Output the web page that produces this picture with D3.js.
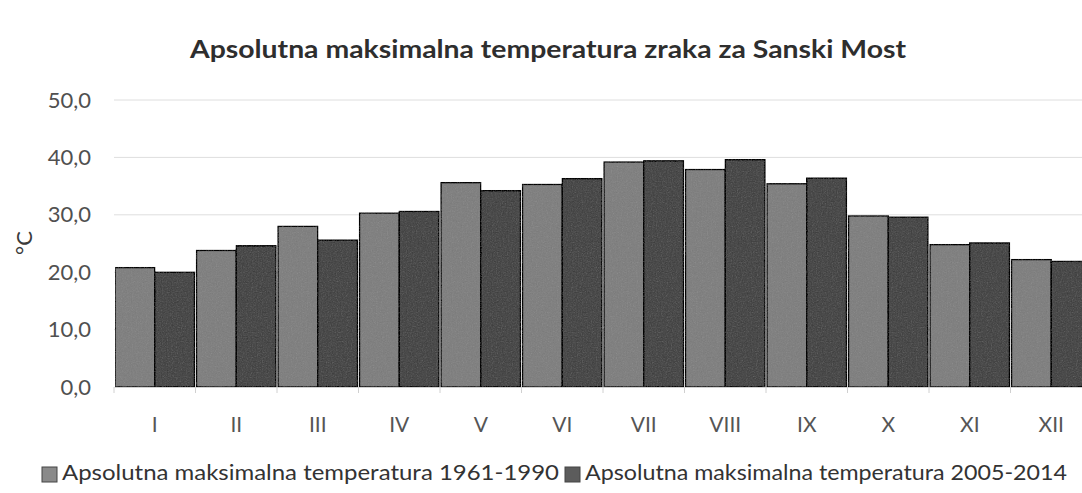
<!DOCTYPE html>
<html>
<head>
<meta charset="utf-8">
<script src="https://cdn.jsdelivr.net/npm/d3@7"></script>
<style>
  body { margin: 0; background: #fff; }
  svg { display: block; font-family: Lato, 'Open Sans', sans-serif; }
</style>
</head>
<body>
<div id="chart"></div>
<script>
'use strict';

var w = 1082;
var h = 493;

// months (roman numerals)
var months = [ 'I', 'II', 'III', 'IV', 'V', 'VI', 'VII', 'VIII', 'IX', 'X', 'XI', 'XII' ];

// absolute max temperature, degC
var temp6190 = [ 20.8, 23.8, 28.0, 30.3, 35.6, 35.3, 39.2, 37.9, 35.4, 29.8, 24.8, 22.2 ];
var temp0514 = [ 20.0, 24.6, 25.6, 30.6, 34.2, 36.3, 39.4, 39.6, 36.4, 29.6, 25.1, 21.9 ];

var seriesNames = [ 'Apsolutna maksimalna temperatura 1961-1990', 'Apsolutna maksimalna temperatura 2005-2014' ];
var yTicks = [ 0, 10, 20, 30, 40, 50 ];

var colors = [ '#8a8a8a', '#5c5c5c' ];

var plotLeft = 114;
var plotRight = 1092;
var plotTop = 100;
var plotBottom = 387;

var svg = d3.select('#chart').append('svg')
	.attr('width', w)
	.attr('height', h);

// a little scan grain on the bars
var grain = svg.append('defs').append('filter')
	.attr('id', 'grain')
	.attr('x', 0).attr('y', 0).attr('width', 1).attr('height', 1);
grain.append('feTurbulence')
	.attr('type', 'fractalNoise')
	.attr('baseFrequency', 0.8)
	.attr('numOctaves', 2)
	.attr('seed', 3)
	.attr('result', 'noise');
grain.append('feColorMatrix')
	.attr('in', 'noise')
	.attr('type', 'saturate')
	.attr('values', 0)
	.attr('result', 'gnoise');
grain.append('feComposite')
	.attr('in', 'SourceGraphic')
	.attr('in2', 'gnoise')
	.attr('operator', 'arithmetic')
	.attr('k1', 0).attr('k2', 1).attr('k3', 0.16).attr('k4', -0.08)
	.attr('result', 'mix');
grain.append('feComposite')
	.attr('in', 'mix')
	.attr('in2', 'SourceGraphic')
	.attr('operator', 'in');

var x = d3.scaleBand()
	.domain(months)
	.range([ plotLeft, plotRight ])
	.paddingInner(0.025)
	.paddingOuter(0.0125);

var xSub = d3.scaleBand()
	.domain([ 0, 1 ])
	.range([ 0, x.bandwidth() ]);

var y = d3.scaleLinear()
	.domain([ 0, 50 ])
	.range([ plotBottom, plotTop ]);

// gridlines
svg.append('g')
	.selectAll('line')
	.data(yTicks.slice(1))
	.enter().append('line')
	.attr('x1', plotLeft)
	.attr('x2', w)
	.attr('y1', function(d) { return y(d); })
	.attr('y2', function(d) { return y(d); })
	.attr('stroke', '#dedede')
	.attr('stroke-width', 1);

// y axis labels
var yAxis = d3.axisLeft(y)
	.tickValues(yTicks)
	.tickSize(0)
	.tickPadding(0)
	.tickFormat(function(d) { return d3.format('.1f')(d).replace('.', ','); });

svg.append('g')
	.attr('transform', 'translate(91,0)')
	.call(yAxis)
	.call(function(g) { g.select('.domain').remove(); })
	.selectAll('text')
	.attr('font-size', 22)
	.attr('font-family', 'Lato, sans-serif')
	.attr('fill', '#505050');

// bars
var data = months.map(function(m, i) {
	return { month: m, vals: [ temp6190[i], temp0514[i] ] };
});

var groups = svg.append('g')
	.attr('filter', 'url(#grain)')
	.selectAll('g')
	.data(data)
	.enter().append('g')
	.attr('transform', function(d) { return 'translate(' + x(d.month) + ',0)'; });

groups.selectAll('rect')
	.data(function(d) { return d.vals; })
	.enter().append('rect')
	.attr('x', function(d, i) { return xSub(i); })
	.attr('y', function(d) { return y(d); })
	.attr('width', xSub.bandwidth())
	.attr('height', function(d) { return plotBottom - y(d); })
	.attr('fill', function(d, i) { return colors[i]; })
	.attr('stroke', '#383838')
	.attr('stroke-width', 1.5);

// x axis
var xAxis = d3.axisBottom(x)
	.tickSize(0)
	.tickPadding(0);

var xg = svg.append('g')
	.attr('transform', 'translate(0,' + plotBottom + ')')
	.call(xAxis);

xg.select('.domain')
	.attr('stroke', '#d0d0d0');

xg.selectAll('text')
	.attr('y', 45)
	.attr('dy', 0)
	.attr('font-size', 21)
	.attr('font-family', 'Lato, sans-serif')
	.attr('fill', '#555');

// tick marks between categories
svg.append('g')
	.selectAll('line')
	.data(months)
	.enter().append('line')
	.attr('x1', function(d) { return x(d) - x.step() * x.paddingInner() / 2; })
	.attr('x2', function(d) { return x(d) - x.step() * x.paddingInner() / 2; })
	.attr('y1', plotBottom)
	.attr('y2', plotBottom + 6)
	.attr('stroke', '#d0d0d0');

// y axis title
svg.append('text')
	.attr('transform', 'translate(32,243) rotate(-90)')
	.attr('text-anchor', 'middle')
	.attr('font-size', 22)
	.attr('fill', '#3a3a3a')
	.text('°C');

// title
svg.append('text')
	.attr('x', 548)
	.attr('y', 58)
	.attr('text-anchor', 'middle')
	.attr('font-size', 24)
	.attr('font-weight', 'bold')
	.attr('fill', '#2e2e2e')
	.attr('textLength', 716)
	.attr('lengthAdjust', 'spacingAndGlyphs')
	.text('Apsolutna maksimalna temperatura zraka za Sanski Most');

// legend
var legendX = [ 42, 565 ];
var legendLen = [ 497, 482 ];

var legend = svg.append('g')
	.selectAll('g')
	.data(seriesNames)
	.enter().append('g')
	.attr('transform', function(d, i) { return 'translate(' + legendX[i] + ',0)'; });

legend.append('rect')
	.attr('x', 0)
	.attr('y', 467)
	.attr('width', 15)
	.attr('height', 15)
	.attr('fill', function(d, i) { return colors[i]; })
	.attr('stroke', '#444')
	.attr('stroke-width', 1);

legend.append('text')
	.attr('x', 20)
	.attr('y', 480)
	.attr('font-size', 21)
	.attr('fill', '#333')
	.attr('textLength', function(d, i) { return legendLen[i]; })
	.attr('lengthAdjust', 'spacingAndGlyphs')
	.text(function(d) { return d; });
</script>
</body>
</html>
